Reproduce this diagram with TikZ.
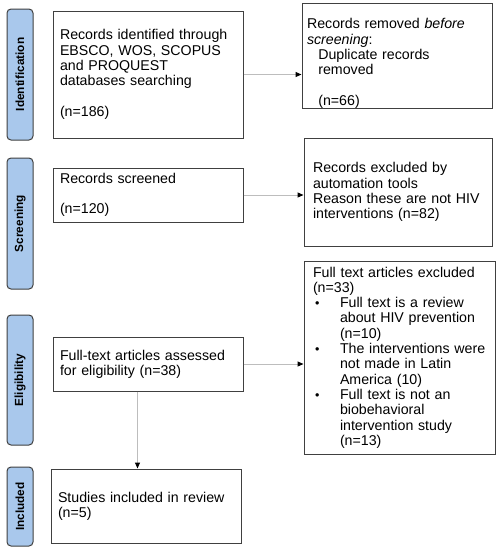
\documentclass[tikz,border=0pt]{standalone}
\usepackage{fontspec}
\setmainfont{Liberation Sans}
\usetikzlibrary{arrows.meta}
\definecolor{phasefill}{HTML}{A9C8EC}
\definecolor{boxline}{HTML}{404040}
\definecolor{arrline}{HTML}{BDBDBD}
\newcommand{\smbul}{\makebox[25pt][l]{\raisebox{0.3pt}{\fontsize{12.5}{12}\selectfont•}}}
\begin{document}
\begin{tikzpicture}[x=1pt,y=-1pt,
  box/.style={draw=boxline, line width=1pt, align=left, inner xsep=7pt, inner ysep=0pt,
    font=\fontsize{14.2}{15.3}\selectfont},
  phase/.style={draw=boxline, fill=phasefill, line width=1pt, rounded corners=4pt, rotate=90,
    font=\fontsize{11.8}{13}\selectfont\bfseries, inner sep=0pt, minimum height=26pt},
  arr/.style={draw=arrline, line width=1pt, -{Triangle[length=6pt,width=5pt,color=black]}}]
\fill[white] (0,0) rectangle (500,552);
\useasboundingbox (0,0) rectangle (500,552);

\node[phase, minimum width=131pt] (pid) at (20,74.5) {Identification};
\node[phase, minimum width=131pt] (pscr) at (20,223.5) {Screening};
\node[phase, minimum width=130pt] (pel) at (20,380) {Eligibility};
\node[phase, minimum width=79pt] (pinc) at (20,506.5) {Included};

\node[box, text width=176pt, minimum height=127pt] (ident) at (148,74.5)
  {Records identified through\\EBSCO, WOS, SCOPUS\\and PROQUEST\\databases searching\\[15.3pt](n=186)};
\node[box, text width=180pt, inner xsep=5pt, minimum height=90pt] (removed) at (397,56)
  {\rule{0pt}{25pt}Records removed \textit{before}\\
   \textit{screening}:\\
   \hspace*{11.3pt}Duplicate records\\
   \hspace*{11.3pt}removed\\[15.3pt]
   \hspace*{11.3pt}(n=66)};
\node[box, text width=170pt, inner xsep=9pt, minimum height=108pt] (auto) at (398,192)
  {Records excluded by\\automation tools\\Reason these are not HIV\\interventions (n=82)};
\node[box, text width=173pt, inner xsep=9pt, minimum height=193pt] (full) at (399.5,357.5)
  {Full text articles excluded\\
   (n=33)\\
   \hspace*{2pt}\smbul Full text is a review\\
   \hspace*{27pt}about HIV prevention\\
   \hspace*{27pt}(n=10)\\
   \hspace*{2pt}\smbul The interventions were\\
   \hspace*{27pt}not made in Latin\\
   \hspace*{27pt}America (10)\\
   \hspace*{2pt}\smbul Full text is not an\\
   \hspace*{27pt}biobehavioral\\
   \hspace*{27pt}intervention study\\
   \hspace*{27pt}(n=13)};
\node[box, text width=176pt, minimum height=54pt] (screen) at (148,195)
  {Records screened\\[15.3pt](n=120)};
\node[box, text width=176pt, minimum height=54pt] (elig) at (148,364)
  {Full-text articles assessed\\for eligibility (n=38)};
\node[box, text width=176pt, minimum height=74pt] (incl) at (146,506)
  {Studies included in review\\(n=5)};

\draw[arr] (ident.east) -- (ident.east -| removed.west);
\draw[arr] (screen.east) -- (screen.east -| auto.west);
\draw[arr] (elig.east) -- (elig.east -| full.west);
\draw[arr] ([xshift=-10.5pt]elig.south) -- ([xshift=-10.5pt]elig.south |- incl.north);
\end{tikzpicture}
\end{document}
